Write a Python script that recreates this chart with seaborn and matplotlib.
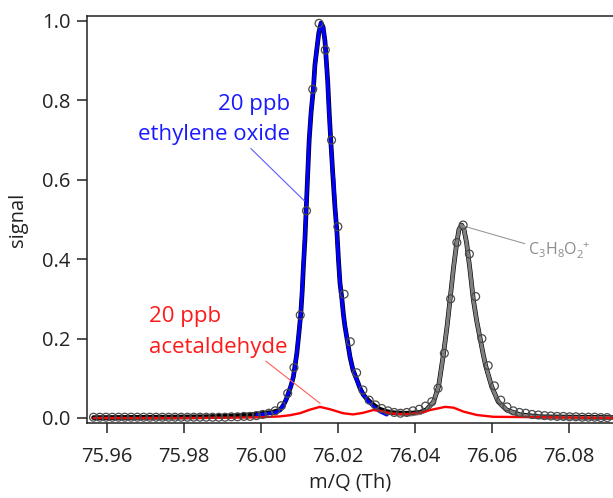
import numpy as np
import pandas as pd
import matplotlib
matplotlib.use("Agg")
import matplotlib.pyplot as plt
import seaborn as sns

# ---- measured data points (circles) ----
meas_mz = [75.95649, 75.95812, 75.95974, 75.96137, 75.96300, 75.96462, 75.96625, 75.96788,
           75.96950, 75.97113, 75.97276, 75.97439, 75.97601, 75.97764, 75.97927, 75.98089,
           75.98252, 75.98415, 75.98577, 75.98740, 75.98903, 75.99065, 75.99228, 75.99391,
           75.99554, 75.99716, 75.99879, 76.00042, 76.00204, 76.00367, 76.00530, 76.00692,
           76.00855, 76.01018, 76.01180, 76.01343, 76.01506, 76.01669, 76.01831, 76.01994,
           76.02157, 76.02319, 76.02482, 76.02645, 76.02808, 76.02970, 76.03133, 76.03296,
           76.03458, 76.03621, 76.03784, 76.03946, 76.04109, 76.04272, 76.04434, 76.04597,
           76.04760, 76.04923, 76.05085, 76.05248, 76.05411, 76.05573, 76.05736, 76.05899,
           76.06061, 76.06224, 76.06387, 76.06550, 76.06712, 76.06875, 76.07038, 76.07200,
           76.07363, 76.07526, 76.07689, 76.07851, 76.08014, 76.08177, 76.08339, 76.08502,
           76.08665, 76.08827, 76.08990]
meas_sig = [0.002, 0.002, 0.002, 0.002, 0.002, 0.002, 0.002, 0.002,
            0.002, 0.002, 0.002, 0.002, 0.002, 0.002, 0.002, 0.002,
            0.002, 0.002, 0.002, 0.002, 0.002, 0.002, 0.003, 0.003,
            0.004, 0.004, 0.006, 0.009, 0.012, 0.018, 0.031, 0.062,
            0.127, 0.259, 0.522, 0.828, 0.994, 0.927, 0.700, 0.482,
            0.312, 0.192, 0.114, 0.0705, 0.045, 0.033, 0.024, 0.018,
            0.014, 0.012, 0.014, 0.018, 0.022, 0.030, 0.041, 0.075,
            0.163, 0.300, 0.442, 0.486, 0.413, 0.306, 0.200, 0.132,
            0.081, 0.045, 0.028, 0.018, 0.014, 0.012, 0.009, 0.0075,
            0.006, 0.005, 0.004, 0.004, 0.003, 0.003, 0.002, 0.002,
            0.002, 0.001, 0.001]

# ---- ethylene oxide fit (blue) ----
eo_mz = [75.99896, 76.00104, 76.00286, 76.00390, 76.00494, 76.00579, 76.00649, 76.00709,
         76.00779, 76.00839, 76.00883, 76.00927, 76.00979, 76.01031, 76.01065, 76.01099,
         76.01135, 76.01169, 76.01208, 76.01247, 76.01299, 76.01358, 76.01403, 76.01447,
         76.01501, 76.01558, 76.01610, 76.01662, 76.01727, 76.01766, 76.01810, 76.01857,
         76.01883, 76.01922, 76.01966, 76.02008, 76.02052, 76.02096, 76.02138, 76.02182,
         76.02247, 76.02312, 76.02390, 76.02486, 76.02571, 76.02657, 76.02766, 76.02875,
         76.02987, 76.03091, 76.03265]
eo_sig = [0.008, 0.010, 0.013, 0.014, 0.020, 0.032, 0.046, 0.062,
          0.082, 0.104, 0.130, 0.163, 0.210, 0.260, 0.320, 0.381,
          0.450, 0.520, 0.610, 0.700, 0.770, 0.830, 0.890, 0.930,
          0.970, 0.995, 0.985, 0.950, 0.850, 0.770, 0.700, 0.620,
          0.600, 0.530, 0.470, 0.400, 0.340, 0.300, 0.260, 0.230,
          0.190, 0.154, 0.120, 0.096, 0.075, 0.058, 0.044, 0.033,
          0.023, 0.016, 0.008]

# ---- C3H8O2+ fit (grey) ----
c3_mz = [76.0387, 76.0413, 76.0430, 76.0448, 76.0461, 76.0474, 76.0483, 76.0491,
         76.0500, 76.0508, 76.0514, 76.0521, 76.0527, 76.0534, 76.0543, 76.0551,
         76.0560, 76.0569, 76.0577, 76.0584, 76.0599, 76.0616, 76.0638, 76.0673,
         76.0725, 76.0914]
c3_sig = [0.008, 0.012, 0.020, 0.041, 0.079, 0.163, 0.230, 0.300,
          0.380, 0.440, 0.475, 0.486, 0.475, 0.440, 0.370, 0.300,
          0.245, 0.200, 0.160, 0.129, 0.079, 0.041, 0.020, 0.0075,
          0.002, 0.000]

# ---- acetaldehyde fit (red) ----
ac_mz = [75.9565, 75.9800, 75.9950, 76.0000, 76.0049, 76.0075, 76.0101, 76.0127,
         76.0153, 76.0179, 76.0213, 76.0239, 76.0265, 76.0291, 76.0309, 76.0335,
         76.0361, 76.0387, 76.0413, 76.0439, 76.0478, 76.0500, 76.0526, 76.0561,
         76.0604, 76.0725, 76.0914]
ac_sig = [0.000, 0.000, 0.001, 0.002, 0.004, 0.007, 0.012, 0.021,
          0.028, 0.022, 0.012, 0.009, 0.013, 0.020, 0.018, 0.012,
          0.010, 0.010, 0.013, 0.020, 0.028, 0.026, 0.016, 0.0075,
          0.003, 0.002, 0.000]

# ---- total fit (black) ----
tot_mz = [75.9565, 75.9750, 75.9850, 75.9920, 75.9970, 76.0000, 76.0029, 76.0049,
          76.0058, 76.0065, 76.0071, 76.0078, 76.0084, 76.0088, 76.0093, 76.0098,
          76.0103, 76.0107, 76.0110, 76.0114, 76.0117, 76.0121, 76.0125, 76.0130,
          76.0136, 76.0140, 76.0145, 76.0150, 76.0156, 76.0161, 76.0166, 76.0173,
          76.0177, 76.0181, 76.0186, 76.0192, 76.0197, 76.0201, 76.0205, 76.0210,
          76.0214, 76.0218, 76.0225, 76.0231, 76.0239, 76.0249, 76.0257, 76.0266,
          76.0277, 76.0288, 76.0299, 76.0309, 76.0327, 76.0345, 76.0370, 76.0387,
          76.0413, 76.0430, 76.0448, 76.0461, 76.0474, 76.0483, 76.0491, 76.0500,
          76.0508, 76.0514, 76.0521, 76.0527, 76.0534, 76.0543, 76.0551, 76.0560,
          76.0569, 76.0577, 76.0584, 76.0599, 76.0616, 76.0638, 76.0673, 76.0725,
          76.0914]
tot_sig = [0.001, 0.002, 0.003, 0.005, 0.008, 0.011, 0.014, 0.020,
           0.032, 0.046, 0.062, 0.082, 0.104, 0.130, 0.163, 0.210,
           0.260, 0.320, 0.381, 0.450, 0.520, 0.610, 0.700, 0.770,
           0.830, 0.890, 0.930, 0.970, 0.995, 0.985, 0.950, 0.850,
           0.770, 0.700, 0.620, 0.530, 0.470, 0.400, 0.340, 0.300,
           0.260, 0.230, 0.190, 0.154, 0.120, 0.096, 0.075, 0.058,
           0.046, 0.036, 0.028, 0.022, 0.016, 0.013, 0.012, 0.012,
           0.014, 0.021, 0.041, 0.079, 0.163, 0.230, 0.300, 0.380,
           0.440, 0.475, 0.486, 0.475, 0.440, 0.370, 0.300, 0.245,
           0.200, 0.160, 0.129, 0.079, 0.041, 0.020, 0.008, 0.003,
           0.001]

x_ticks = [75.96, 75.98, 76.00, 76.02, 76.04, 76.06, 76.08]
y_ticks = [0.0, 0.2, 0.4, 0.6, 0.8, 1.0]

sns.set_style("ticks")
plt.rcParams['font.family'] = ['Open Sans', 'DejaVu Sans']
plt.rcParams['mathtext.fontset'] = 'custom'
plt.rcParams['mathtext.rm'] = 'Open Sans'

fig = plt.figure(figsize=(6.13, 4.98), dpi=100)
ax = fig.add_axes([0.1419, 0.1506, 0.8581, 0.8173])

meas = pd.DataFrame({"mz": meas_mz, "signal": meas_sig})
eo = pd.DataFrame({"mz": eo_mz, "signal": eo_sig})
c3 = pd.DataFrame({"mz": c3_mz, "signal": c3_sig})
ac = pd.DataFrame({"mz": ac_mz, "signal": ac_sig})
tot = pd.DataFrame({"mz": tot_mz, "signal": tot_sig})

sns.lineplot(data=tot, x="mz", y="signal", ax=ax, color="black", lw=3.4,
             sort=False, estimator=None, zorder=2)
sns.lineplot(data=eo, x="mz", y="signal", ax=ax, color="#0000ff", lw=2.5,
             sort=False, estimator=None, zorder=3)
sns.lineplot(data=c3, x="mz", y="signal", ax=ax, color="#7f7f7f", lw=2.5,
             sort=False, estimator=None, zorder=3)
sns.lineplot(data=ac, x="mz", y="signal", ax=ax, color="#ff0000", lw=1.7,
             sort=False, estimator=None, zorder=4)
sns.scatterplot(data=meas, x="mz", y="signal", ax=ax, marker="o", s=32,
                facecolor="none", edgecolor="#4a4a4a", linewidth=0.9, zorder=5)

ax.set_xlim(75.9548, 76.0914)
ax.set_ylim(-0.0126, 1.0126)
ax.set_xticks(x_ticks)
ax.set_xticklabels([f"{v:.2f}" for v in x_ticks])
ax.set_yticks(y_ticks)
ax.set_yticklabels([f"{v:.1f}" for v in y_ticks])
ax.tick_params(axis="both", direction="out", length=7, width=1.1, labelsize=14.5,
               color="#222222", labelcolor="#222222", pad=5)
ax.tick_params(axis="x", pad=10.5)
for side in ["left", "top", "bottom"]:
    ax.spines[side].set_linewidth(1.1)
    ax.spines[side].set_color("#222222")
    ax.spines[side].set_visible(True)
ax.spines["right"].set_visible(False)

ax.set_xlabel("m/Q (Th)", fontsize=14.5, color="#222222", labelpad=4)
ax.set_ylabel("signal", fontsize=14.5, color="#222222", labelpad=10)

# annotations
ax.annotate("20 ppb\nethylene oxide", xy=(76.01125, 0.547), xytext=(76.00753, 0.752),
            ha="right", va="center", multialignment="right", fontsize=16,
            color="#1a1aff", linespacing=1.6,
            arrowprops=dict(arrowstyle="-", color="#5c5cff", lw=0.8,
                            shrinkA=0, shrinkB=0, relpos=(0.72, 0.0)))
ax.annotate("20 ppb\nacetaldehyde", xy=(76.01532, 0.037), xytext=(75.97099, 0.2166),
            ha="left", va="center", multialignment="left", fontsize=16,
            color="#ff1a1a", linespacing=1.6,
            arrowprops=dict(arrowstyle="-", color="#ff5c5c", lw=0.8,
                            shrinkA=0, shrinkB=0, relpos=(0.81, 0.0)))
ax.annotate(r"$\mathregular{C_3H_8O_2^{\ +}}$", xy=(76.05255, 0.4836),
            xytext=(76.06935, 0.423), ha="left", va="center", fontsize=11.5,
            color="#8c8c8c",
            arrowprops=dict(arrowstyle="-", color="#9a9a9a", lw=0.8,
                            shrinkA=0, shrinkB=0, relpos=(0.0, 0.75)))

fig.savefig("out.png", dpi=100)
